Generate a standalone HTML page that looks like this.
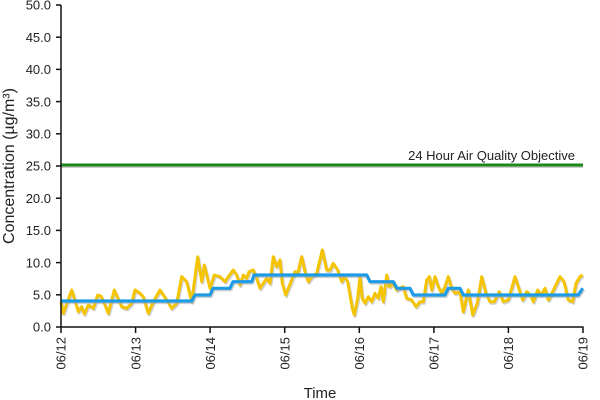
<!DOCTYPE html>
<html>
<head>
<meta charset="utf-8">
<style>
  html, body { margin:0; padding:0; background:#ffffff; }
  body { width:600px; height:400px; overflow:hidden; }
  svg { display:block; }
  text { font-family: "Liberation Sans", Arial, sans-serif; fill:#222; }
</style>
</head>
<body>
<svg width="600" height="400" viewBox="0 0 600 400" xmlns="http://www.w3.org/2000/svg">
  <rect width="600" height="400" fill="#ffffff"/>

  <!-- Y tick labels -->
  <g font-size="13" text-anchor="end">
    <text x="51" y="9.7">50.0</text>
    <text x="51" y="41.9">45.0</text>
    <text x="51" y="74.1">40.0</text>
    <text x="51" y="106.3">35.0</text>
    <text x="51" y="138.5">30.0</text>
    <text x="51" y="170.7">25.0</text>
    <text x="51" y="202.9">20.0</text>
    <text x="51" y="235.1">15.0</text>
    <text x="51" y="267.3">10.0</text>
    <text x="51" y="299.5">5.0</text>
    <text x="51" y="331.7">0.0</text>
  </g>

  <!-- Y axis title -->
  <text font-size="16" text-anchor="middle" transform="translate(14,166) rotate(-90)">Concentration (µg/m³)</text>

  <!-- X tick labels -->
  <g font-size="13" text-anchor="end">
    <text transform="translate(65.7,337) rotate(-90)">06/12</text>
    <text transform="translate(140.3,337) rotate(-90)">06/13</text>
    <text transform="translate(214.8,337) rotate(-90)">06/14</text>
    <text transform="translate(289.4,337) rotate(-90)">06/15</text>
    <text transform="translate(364,337) rotate(-90)">06/16</text>
    <text transform="translate(438.6,337) rotate(-90)">06/17</text>
    <text transform="translate(513.1,337) rotate(-90)">06/18</text>
    <text transform="translate(587.4,337) rotate(-90)">06/19</text>
  </g>

  <!-- X axis title -->
  <text font-size="15" text-anchor="middle" x="320" y="398">Time</text>

  <!-- Objective line -->
  <line x1="61" y1="166.5" x2="583" y2="166.5" stroke="#9a9a9a" stroke-width="3" opacity="0.5"/>
  <line x1="61" y1="165" x2="583" y2="165" stroke="#1a8a1a" stroke-width="3"/>
  <text font-size="13" text-anchor="end" x="575" y="160">24 Hour Air Quality Objective</text>

  <!-- Yellow series shadow -->
  <polyline fill="none" stroke="#a8a8a8" stroke-width="3" stroke-linejoin="round" opacity="0.55" transform="translate(1,1.5)"
    points="61,302 63.3,313.3 71.7,290 78.3,311.7 81.7,306.7 84.3,314 88.3,305 93.3,308.3 97.7,295 101,296 105,305 108.3,313.3 114.3,290 121.7,306.7 126.7,308.3 131.7,303.3 135,290 140,293.3 143.3,296.7 148.3,313.3 153.3,301.7 160,290 166.7,300 171.7,308.3 176.7,303.3 181.7,276.7 186.7,281.7 191.7,301.7 197.7,256.7 201.7,281.7 204.3,265 210,288.3 214.3,275 220,276.7 225,281.7 228.3,276.7 233.3,270 236.7,275 240,285 243.3,275 246.7,278.3 249,271.7 253.3,270 256.7,278.3 260,288.3 263.3,283.3 266.7,278.3 270,283.3 273.3,256.7 276.7,266.7 280,260 282.3,283.3 285.7,295 289,286.7 292.3,278.3 295,271.7 297.7,273.3 301.7,256.7 305,271.7 308.3,281.7 311.7,276.7 316.7,273.3 322.3,250 326.7,270 330,270 333.3,263.3 337.7,270 341.7,281.7 344.3,276.7 347.7,281.7 352.3,308.3 354.3,315 357.7,298.3 360,276.7 362.3,298.3 365,303.3 368.3,296.7 371.7,301.7 375,293.3 378.3,298.3 381,286.7 383.3,301.7 386.7,275 389.3,286.7 393.3,283.3 396.7,290 400,288 403.3,286.7 406.7,298.3 411.7,300 416,306.7 420,301.7 423.3,301.7 426.7,280 429.3,276.7 431.7,290 435,276.7 438.3,286.7 441.7,293.3 445,286.7 448.3,276.7 451.7,288.3 455,293.3 460,291.7 463.3,311.7 468.3,290 472.7,315 477.3,303.3 481.7,276.7 486,293.3 490,301.7 494.3,301.7 499.3,291.7 503.3,301.7 508.3,300 515,276.7 518.3,286.7 522.7,300 526.7,291.7 530.7,295 533.3,301.7 537.7,290 541,295 545,288.3 548.3,300 552.7,291.7 556.7,283.3 560,276.7 564,281.7 568.3,300 572.7,301.7 576,283.3 580,276.7 582.7,275"/>
  <!-- Yellow series -->
  <polyline fill="none" stroke="#f5c400" stroke-width="3" stroke-linejoin="round"
    points="61,302 63.3,313.3 71.7,290 78.3,311.7 81.7,306.7 84.3,314 88.3,305 93.3,308.3 97.7,295 101,296 105,305 108.3,313.3 114.3,290 121.7,306.7 126.7,308.3 131.7,303.3 135,290 140,293.3 143.3,296.7 148.3,313.3 153.3,301.7 160,290 166.7,300 171.7,308.3 176.7,303.3 181.7,276.7 186.7,281.7 191.7,301.7 197.7,256.7 201.7,281.7 204.3,265 210,288.3 214.3,275 220,276.7 225,281.7 228.3,276.7 233.3,270 236.7,275 240,285 243.3,275 246.7,278.3 249,271.7 253.3,270 256.7,278.3 260,288.3 263.3,283.3 266.7,278.3 270,283.3 273.3,256.7 276.7,266.7 280,260 282.3,283.3 285.7,295 289,286.7 292.3,278.3 295,271.7 297.7,273.3 301.7,256.7 305,271.7 308.3,281.7 311.7,276.7 316.7,273.3 322.3,250 326.7,270 330,270 333.3,263.3 337.7,270 341.7,281.7 344.3,276.7 347.7,281.7 352.3,308.3 354.3,315 357.7,298.3 360,276.7 362.3,298.3 365,303.3 368.3,296.7 371.7,301.7 375,293.3 378.3,298.3 381,286.7 383.3,301.7 386.7,275 389.3,286.7 393.3,283.3 396.7,290 400,288 403.3,286.7 406.7,298.3 411.7,300 416,306.7 420,301.7 423.3,301.7 426.7,280 429.3,276.7 431.7,290 435,276.7 438.3,286.7 441.7,293.3 445,286.7 448.3,276.7 451.7,288.3 455,293.3 460,291.7 463.3,311.7 468.3,290 472.7,315 477.3,303.3 481.7,276.7 486,293.3 490,301.7 494.3,301.7 499.3,291.7 503.3,301.7 508.3,300 515,276.7 518.3,286.7 522.7,300 526.7,291.7 530.7,295 533.3,301.7 537.7,290 541,295 545,288.3 548.3,300 552.7,291.7 556.7,283.3 560,276.7 564,281.7 568.3,300 572.7,301.7 576,283.3 580,276.7 582.7,275"/>

  <!-- Blue series shadow -->
  <polyline fill="none" stroke="#a8a8a8" stroke-width="3.2" stroke-linejoin="round" opacity="0.55" transform="translate(1,1.5)"
    points="61,301 191.7,301 195,295 210,295 213,288.3 230,288.3 233,281.7 251.7,281.7 254,275 366.7,275 370,281.7 393.3,281.7 397,288.3 410,288.3 413.3,295 445,295 448.3,288.3 460,288.3 463.3,295 578.3,295 582.7,288.3"/>
  <!-- Blue series -->
  <polyline fill="none" stroke="#1e9be6" stroke-width="3.2" stroke-linejoin="round"
    points="61,301 191.7,301 195,295 210,295 213,288.3 230,288.3 233,281.7 251.7,281.7 254,275 366.7,275 370,281.7 393.3,281.7 397,288.3 410,288.3 413.3,295 445,295 448.3,288.3 460,288.3 463.3,295 578.3,295 582.7,288.3"/>

  <!-- Axes -->
  <g stroke="#111" stroke-width="1.5">
    <line x1="61" y1="5" x2="61" y2="327.5"/>
    <line x1="60.5" y1="327" x2="583.5" y2="327"/>
    <!-- y ticks -->
    <line x1="56" y1="5" x2="61" y2="5"/>
    <line x1="56" y1="37.2" x2="61" y2="37.2"/>
    <line x1="56" y1="69.4" x2="61" y2="69.4"/>
    <line x1="56" y1="101.6" x2="61" y2="101.6"/>
    <line x1="56" y1="133.8" x2="61" y2="133.8"/>
    <line x1="56" y1="166" x2="61" y2="166"/>
    <line x1="56" y1="198.2" x2="61" y2="198.2"/>
    <line x1="56" y1="230.4" x2="61" y2="230.4"/>
    <line x1="56" y1="262.6" x2="61" y2="262.6"/>
    <line x1="56" y1="294.8" x2="61" y2="294.8"/>
    <line x1="56" y1="327" x2="61" y2="327"/>
    <!-- x ticks -->
    <line x1="61" y1="327" x2="61" y2="333"/>
    <line x1="135.6" y1="327" x2="135.6" y2="333"/>
    <line x1="210.1" y1="327" x2="210.1" y2="333"/>
    <line x1="284.7" y1="327" x2="284.7" y2="333"/>
    <line x1="359.3" y1="327" x2="359.3" y2="333"/>
    <line x1="433.9" y1="327" x2="433.9" y2="333"/>
    <line x1="508.4" y1="327" x2="508.4" y2="333"/>
    <line x1="583" y1="327" x2="583" y2="333"/>
  </g>
</svg>
</body>
</html>
